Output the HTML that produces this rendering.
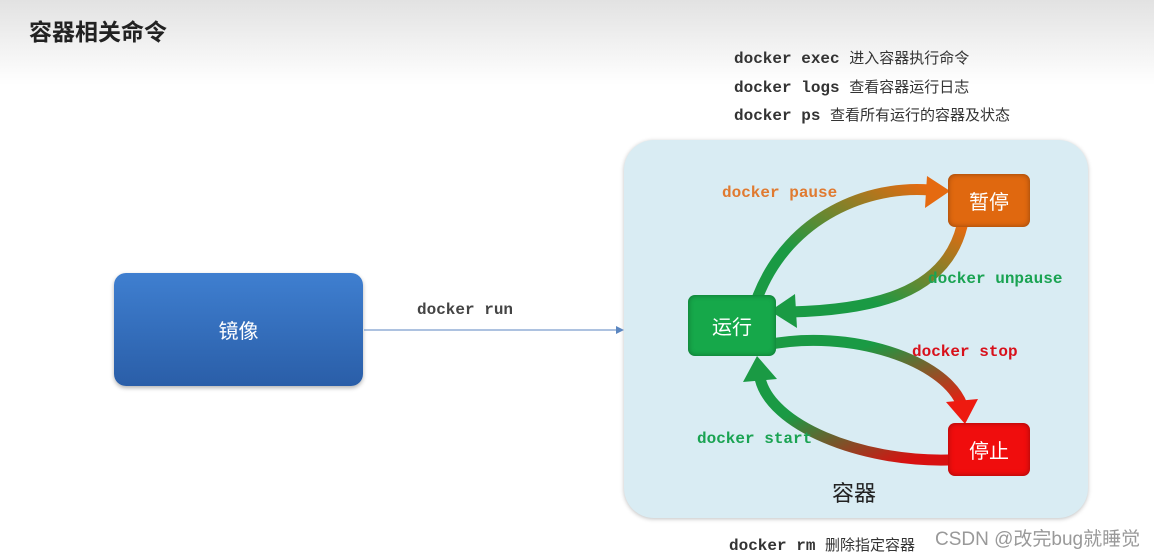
<!DOCTYPE html>
<html><head><meta charset="utf-8"><style>
body{margin:0;width:1154px;height:556px;overflow:hidden;background:#fff;position:relative;font-family:"Liberation Sans","Noto Sans CJK SC",sans-serif}
.hdr{position:absolute;left:0;top:0;width:1154px;height:85px;background:linear-gradient(#e2e2e2,#fff)}
.t{position:absolute;white-space:nowrap}
.m{font-family:"Liberation Mono","Noto Sans CJK SC",monospace;font-weight:bold;font-size:16px;color:#333}
.m span{font-family:"Liberation Sans","Noto Sans CJK SC",sans-serif;font-weight:normal;font-size:15px}
.box{position:absolute;border-radius:7px;color:#fff;font-size:20px;display:flex;align-items:center;justify-content:center;box-shadow:inset 0 0 6px rgba(0,0,0,.35)}
</style></head><body>
<div class="hdr"></div>
<div class="t" style="left:29px;top:13px;font-size:23px;font-weight:bold;color:#222">容器相关命令</div>
<div class="t m" style="left:734px;top:47px">docker exec <span>进入容器执行命令</span></div>
<div class="t m" style="left:734px;top:76px">docker logs <span>查看容器运行日志</span></div>
<div class="t m" style="left:734px;top:104px">docker ps <span>查看所有运行的容器及状态</span></div>
<div class="t m" style="left:729px;top:534px">docker rm <span>删除指定容器</span></div>
<div class="t" style="left:935px;top:524px;font-size:19px;color:#999">CSDN @改完bug就睡觉</div>
<div style="position:absolute;left:624px;top:140px;width:464px;height:378px;border-radius:30px;background:#d9ecf3;box-shadow:0 1px 4px rgba(0,0,0,.25)"></div>
<div class="box" style="left:114px;top:273px;width:249px;height:113px;border-radius:12px;background:linear-gradient(#3f7fd0,#2a5ea8);box-shadow:0 2px 4px rgba(0,0,0,.3)">镜像</div>
<div class="t m" style="left:417px;top:301px;color:#444">docker run</div>
<svg style="position:absolute;left:0;top:0" width="1154" height="556">
<defs>
<linearGradient id="gp" x1="0" y1="1" x2="1" y2="0"><stop offset="0.3" stop-color="#1a9a44"/><stop offset="1" stop-color="#e56a10"/></linearGradient>
<linearGradient id="gu" x1="1" y1="0" x2="0" y2="1"><stop offset="0" stop-color="#e56a10"/><stop offset="0.7" stop-color="#1a9a44"/></linearGradient>
<linearGradient id="gs" x1="0" y1="0" x2="1" y2="1"><stop offset="0.3" stop-color="#1a9a44"/><stop offset="1" stop-color="#ee1a10"/></linearGradient>
<linearGradient id="gt" x1="1" y1="1" x2="0" y2="0"><stop offset="0.1" stop-color="#d81010"/><stop offset="0.7" stop-color="#1a9a44"/></linearGradient>
</defs>
<line x1="364" y1="330" x2="618" y2="330" stroke="#5b86c0" stroke-width="1"/>
<polygon points="624,330 616,326 616,334" fill="#5b86c0"/>
<g fill="none" stroke-width="11" stroke-linecap="round">
<path d="M758,296 C790,215 870,185 930,190" stroke="url(#gp)"/>
<path d="M962,226 C945,295 870,310 790,312" stroke="url(#gu)"/>
<path d="M766,345 C850,328 945,360 962,405" stroke="url(#gs)"/>
<path d="M948,460 C860,462 770,425 760,378" stroke="url(#gt)"/>
</g>
<polygon points="950,191 927,176 925,208" fill="#e56a10"/>
<polygon points="770,311 795,294 797,328" fill="#1a9a44"/>
<polygon points="965,424 946,402 978,399" fill="#ee1a10"/>
<polygon points="757,356 743,382 777,379" fill="#1a9a44"/>
</svg>
<div class="box" style="left:688px;top:295px;width:88px;height:61px;background:#16a84a">运行</div>
<div class="box" style="left:948px;top:174px;width:82px;height:53px;background:#e0680f">暂停</div>
<div class="box" style="left:948px;top:423px;width:82px;height:53px;background:#f00d0d">停止</div>
<div class="t m" style="left:722px;top:184px;color:#e07a30">docker pause</div>
<div class="t m" style="left:928px;top:270px;color:#1aa352">docker unpause</div>
<div class="t m" style="left:912px;top:343px;color:#d8101a">docker stop</div>
<div class="t m" style="left:697px;top:430px;color:#1aa352">docker start</div>
<div class="t" style="left:832px;top:476px;font-size:22px;color:#222">容器</div>
</body></html>
